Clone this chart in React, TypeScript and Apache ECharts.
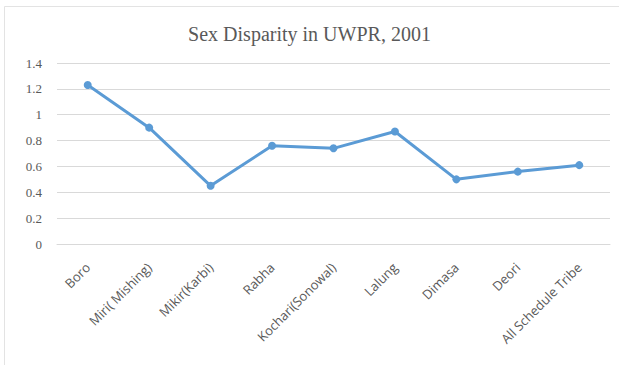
import React, { useEffect, useRef } from "react";
import * as echarts from "echarts";

const categories = [
  "Boro",
  "Miri( Mishing)",
  "Mikir(Karbi)",
  "Rabha",
  "Kochari(Sonowal)",
  "Lalung",
  "Dimasa",
  "Deori",
  "All Schedule Tribe",
];
const values = [1.23, 0.9, 0.45, 0.76, 0.74, 0.87, 0.5, 0.56, 0.61];
const titleText = "Sex Disparity in UWPR, 2001";

export default function App() {
  const ref = useRef<HTMLDivElement>(null);
  useEffect(() => {
    if (!ref.current) return;
    const chart = echarts.init(ref.current, undefined, { renderer: "svg" });
    chart.setOption({
      animation: false,
      backgroundColor: "#ffffff",
      title: {
        text: titleText,
        left: "center",
        top: 19,
        textStyle: {
          fontFamily: "Liberation Serif",
          fontSize: 20,
          fontWeight: "normal",
          color: "#595959",
        },
      },
      graphic: [
        {
          type: "rect",
          shape: { x: 4.5, y: 6.5, width: 640, height: 400 },
          style: { fill: "none", stroke: "#e3e3e3", lineWidth: 1 },
          silent: true,
        },
      ],
      grid: { left: 57, right: 9, top: 63, bottom: 121 },
      xAxis: {
        type: "category",
        data: categories,
        boundaryGap: true,
        axisLine: { show: true, lineStyle: { color: "#d9d9d9", width: 1 } },
        axisTick: { show: false },
        axisLabel: {
          rotate: 45,
          interval: 0,
          margin: 21,
          color: "#595959",
          fontFamily: "Open Sans",
          fontSize: 13,
        },
      },
      yAxis: {
        type: "value",
        min: 0,
        max: 1.4,
        interval: 0.2,
        axisLine: { show: false },
        axisTick: { show: false },
        splitLine: { lineStyle: { color: "#d9d9d9", width: 1 } },
        axisLabel: {
          margin: 15,
          color: "#595959",
          fontFamily: "Liberation Serif",
          fontSize: 13,
        },
      },
      series: [
        {
          type: "line",
          data: values,
          symbol: "circle",
          symbolSize: 8,
          lineStyle: { color: "#5b9bd5", width: 3 },
          itemStyle: { color: "#5b9bd5" },
        },
      ],
    });
    return () => chart.dispose();
  }, []);
  return (
    <div
      ref={ref}
      style={{ position: "absolute", left: 0, top: 0, width: 619, height: 365 }}
    />
  );
}
